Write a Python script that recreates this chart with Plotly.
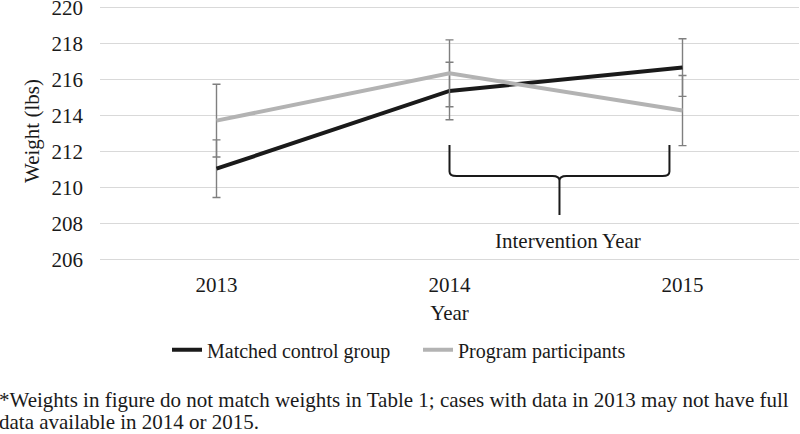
import plotly.graph_objects as go

years = ["2013", "2014", "2015"]
control = [211.03, 215.35, 216.65]
control_err = [1.6, 1.6, 1.6]
program = [213.7, 216.33, 214.26]
program_err = [2.02, 1.86, 1.95]
yticks = [206, 208, 210, 212, 214, 216, 218, 220]

xpos = list(range(len(years)))
FONT = "Liberation Serif"
FS = 21

# layout geometry (pixels)
Y_LO, Y_HI = 205.9, 220.35
PX_PER = 18.0
PLOT_TOP = 7.3 - (Y_HI - 220) * PX_PER
PLOT_H = (Y_HI - Y_LO) * PX_PER
PLOT_BOT = PLOT_TOP + PLOT_H
PW = 699.0

def px_x(p):
    return (p - 100) / PW

def px_y(p):
    return (PLOT_BOT - p) / PLOT_H

fig = go.Figure()
fig.add_trace(go.Scatter(
    x=xpos, y=control, mode="lines", name="Matched control group",
    line=dict(color="#1a1a1a", width=4), legend="legend",
    error_y=dict(type="data", array=control_err, visible=True,
                 color="#7f7f7f", thickness=1.4, width=4),
))
fig.add_trace(go.Scatter(
    x=xpos, y=program, mode="lines", name="Program participants",
    line=dict(color="#b3b3b3", width=4), legend="legend2",
    error_y=dict(type="data", array=program_err, visible=True,
                 color="#7f7f7f", thickness=1.4, width=4),
))

# Curly brace for the intervention year
x0, x1 = 1.0, 1.944
xm = (x0 + x1) / 2
ytop, ymid, ytip = 212.35, 210.63, 208.46
r = 0.03
ry = 0.25
path = (f"M {x0},{ytop} L {x0},{ymid+ry} Q {x0},{ymid} {x0+r},{ymid} "
        f"L {xm-r},{ymid} Q {xm},{ymid} {xm},{ymid-ry} L {xm},{ytip} "
        f"M {xm},{ymid-ry} Q {xm},{ymid} {xm+r},{ymid} "
        f"L {x1-r},{ymid} Q {x1},{ymid} {x1},{ymid+ry} L {x1},{ytop}")
fig.add_shape(type="path", path=path, xref="x", yref="y",
              line=dict(color="#1a1a1a", width=2))
fig.add_annotation(x=1.507, y=207.03, xref="x", yref="y", text="Intervention Year",
                   showarrow=False, font=dict(family=FONT, size=FS, color="#1a1a1a"),
                   bgcolor="white")

foot1 = "*Weights in figure do not match weights in Table 1; cases with data in 2013 may not have full"
foot2 = "data available in 2014 or 2015."
fig.add_annotation(x=px_x(-3), y=px_y(400), xref="paper", yref="paper", xanchor="left",
                   yanchor="middle", showarrow=False, text=foot1,
                   font=dict(family=FONT, size=FS, color="#1a1a1a"))
fig.add_annotation(x=px_x(-3), y=px_y(422), xref="paper", yref="paper", xanchor="left",
                   yanchor="middle", showarrow=False, text=foot2,
                   font=dict(family=FONT, size=FS, color="#1a1a1a"))

leg_common = dict(orientation="h", yanchor="middle", xanchor="left",
                  font=dict(family=FONT, size=20, color="#1a1a1a"),
                  bgcolor="rgba(0,0,0,0)")
fig.update_layout(
    width=800, height=434,
    margin=dict(l=100, r=1, t=PLOT_TOP, b=434 - PLOT_BOT, autoexpand=False),
    paper_bgcolor="white", plot_bgcolor="white",
    font=dict(family=FONT, size=FS, color="#1a1a1a"),
    showlegend=True,
    legend=dict(x=px_x(167), y=px_y(350), **leg_common),
    legend2=dict(x=px_x(418), y=px_y(350), **leg_common),
    xaxis=dict(tickmode="array", tickvals=xpos, ticktext=years, range=[-0.5, 2.5],
               showgrid=False, zeroline=False, showline=False, ticks="",
               ticklabelstandoff=9, automargin=False,
               title=dict(text="Year", standoff=9, font=dict(family=FONT, size=FS))),
    yaxis=dict(range=[Y_LO, Y_HI], tickvals=yticks,
               showgrid=True, gridcolor="#d9d9d9",
               gridwidth=1.3, zeroline=False, showline=False, ticks="",
               ticklabelstandoff=16, automargin=False, ticklabeloverflow="allow",
               title=dict(text="Weight (lbs)", standoff=6, font=dict(family=FONT, size=FS))),
)

fig.write_html("out.html", post_script="document.body.style.margin='0';",
               config={"displayModeBar": False})
